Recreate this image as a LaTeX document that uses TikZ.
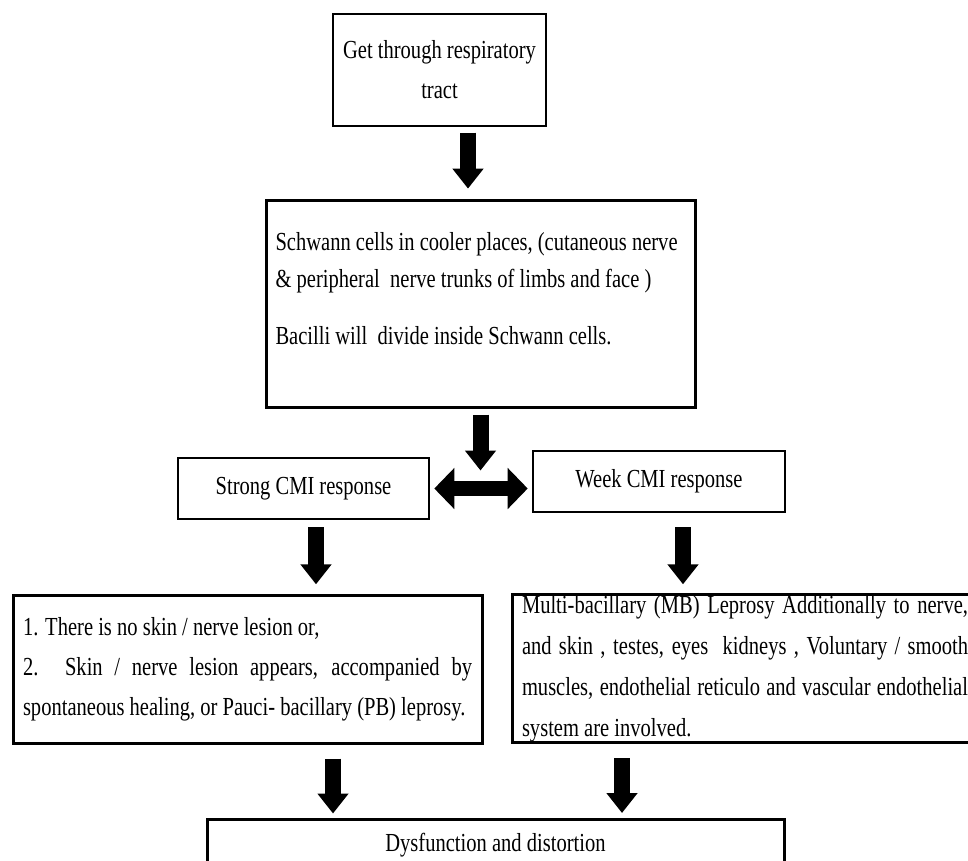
\documentclass[tikz,border=0pt]{standalone}
\usepackage{fontspec}
\setmainfont{Liberation Serif}[FakeStretch=0.79]
\usetikzlibrary{arrows.meta,calc}

\tikzset{
  box/.style={draw,line width=3pt,inner xsep=10pt,inner ysep=0pt,
    font=\fontsize{26}{40}\selectfont},
  blockarrow/.style={line width=16pt,-{Triangle[width=30pt,length=20pt]}},
}

\begin{document}
\begin{tikzpicture}[x=1pt,y=-1pt]
            \useasboundingbox (0,0) rectangle (968,860);
            \fill[white] (0,0) rectangle (968,860);
            \clip (0,0) rectangle (968,860);
            % boxes
            \node[box,line width=1.2pt,align=center,minimum width=213pt,minimum height=112pt] (entry) at (439.5,70) {Get through respiratory\\tract};
            \node[box,align=flush left,text width=410pt,inner xsep=9.5pt,minimum height=207pt,font=\fontsize{26}{37}\selectfont] (schwann) at (480.5,303.5)
                {Schwann cells in cooler places, (cutaneous nerve\\ \& peripheral\ \ nerve trunks of limbs and face )\\[20pt] Bacilli will\ \ divide inside Schwann cells.\\[-6pt]\mbox{}};
            \node[box,line width=2.6pt,minimum width=251pt,minimum height=61pt] (strong) at (303.5,488.5) {Strong CMI response};
            \node[box,line width=2.6pt,minimum width=252pt,minimum height=61pt] (week) at (659,481.5) {Week CMI response};
            \node[box,align=justify,text width=449pt,minimum height=148pt] (pb) at (247.5,669)
                {1. There is no skin / nerve lesion or,\\ 2. Skin / nerve lesion appears, accompanied by\linebreak spontaneous healing, or Pauci- bacillary (PB) leprosy.};
            \node[box,align=justify,text width=446pt,minimum height=148pt,font=\fontsize{26}{41}\selectfont] (mb) at (745,668.5)
                {Multi-bacillary (MB) Leprosy Additionally to nerve,\linebreak and skin , testes, eyes\ \ kidneys , Voluntary / smooth\linebreak muscles, endothelial reticulo and vascular endothelial\linebreak system are involved.};
            \node[box,minimum width=577pt,minimum height=52pt] (dysf) at (495.5,845) {Dysfunction and distortion};
            % arrows
            \draw[blockarrow] ([xshift=28.5pt,yshift=-6pt]entry.south) -- ++(0,56);
            \draw[blockarrow] ([yshift=-6pt]schwann.south) -- ++(0,56);
            \draw[line width=15pt,{Triangle[width=40pt,length=20pt]}-{Triangle[width=40pt,length=20pt]}]
                ([xshift=4pt]strong.east) -- ([xshift=-4pt]strong.east -| week.west);
            \draw[blockarrow] ([xshift=12.5pt,yshift=-7pt]strong.south) -- ++(0,57);
            \draw[blockarrow] ([xshift=24pt,yshift=-14pt]week.south) -- ++(0,57);
            \draw[blockarrow] ([xshift=85.5pt,yshift=-14pt]pb.south) -- ++(0,55);
            \draw[blockarrow] ([xshift=-123pt,yshift=-14pt]mb.south) -- ++(0,55);
        \end{tikzpicture}
\end{document}
